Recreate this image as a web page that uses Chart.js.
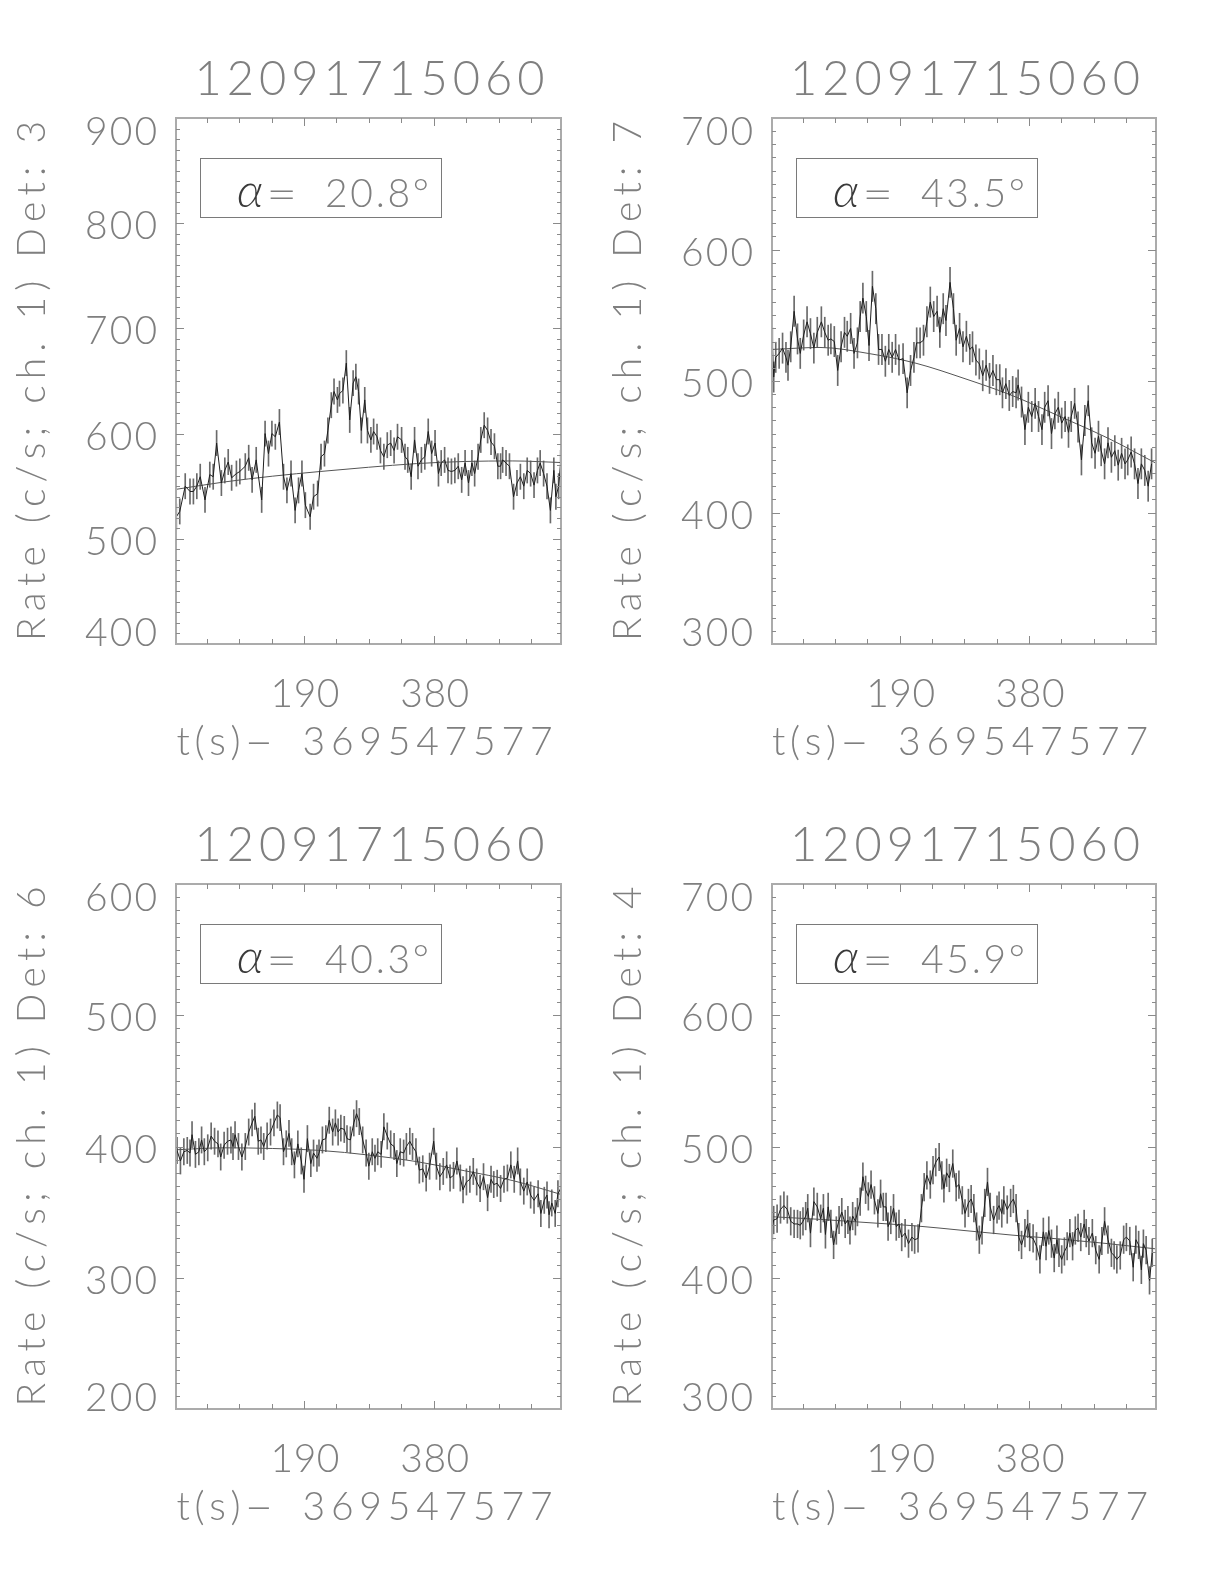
<!DOCTYPE html>
<html>
<head>
<meta charset="utf-8">
<script src="https://cdn.jsdelivr.net/npm/chart.js@4"></script>
<style>
  html, body { margin: 0; padding: 0; background: #fff; }
  #wrap { position: relative; width: 1224px; height: 1584px; }
  .cell { position: absolute; width: 612px; height: 792px; }
</style>
</head>
<body>
<div id="wrap">
  <div class="cell" style="left:0;top:0"><canvas id="c3" width="612" height="792"></canvas></div>
  <div class="cell" style="left:612px;top:0"><canvas id="c7" width="612" height="792"></canvas></div>
  <div class="cell" style="left:0;top:792px"><canvas id="c6" width="612" height="792"></canvas></div>
  <div class="cell" style="left:612px;top:792px"><canvas id="c4" width="612" height="792"></canvas></div>
</div>
<script>
// ---- data ----
const TITLE    = '12091715060';
const X_TITLE  = ['t(s)', '-', '369547577'];
const X_MIN    = 2.5;
const X_MAX    = 566.5;
const X_LABELS = [190, 380];
const X_MINOR  = 47.5;
const Y_MINOR  = 10;

// detector 3
const T_DET3 = [2,3,8,16,23,28,33,38,45,52,57,62,69,74,79,84,91,96,104,109,114,120,128,133,138,143,148,154,160,165,171,177,182,187,192,199,204,210,215,220,225,230,234,239,242,247,252,257,262,266,270,274,279,283,288,292,297,302,307,312,317,322,327,333,338,342,347,352,357,362,367,372,377,382,387,391,396,401,406,411,416,421,426,431,436,440,445,449,454,459,464,469,474,478,481,486,491,497,502,507,512,517,522,527,532,536,541,546,551,556,559,563,566];
const R_DET3 = [515,521,526,550,545,545,550,559,537,561,559,591,553,565,573,558,562,564,569,577,556,575,537,600,581,600,597,611,559,546,562,527,546,562,532,521,540,543,578,581,603,627,640,632,638,641,667,613,648,654,640,603,632,603,594,602,597,584,578,589,591,584,597,594,578,575,559,594,569,575,578,602,581,591,562,572,575,565,564,565,569,556,572,553,572,562,578,594,608,603,592,588,569,569,575,572,569,540,553,559,550,565,562,551,565,572,562,550,527,565,540,550,572];
const FIT_DET3 = [547,554,559.5,564,568,571.5,573.5,574,572.5];

// detector 7
const T_DET7 = [3,5,8,13,18,23,26,30,35,40,44,49,54,59,64,69,75,80,85,89,94,99,104,109,113,118,123,128,132,136,141,145,150,155,159,164,169,174,179,184,189,195,201,206,211,215,220,225,230,235,240,245,249,254,258,264,269,273,278,283,288,293,297,302,307,312,317,322,327,332,337,341,346,351,356,361,364,369,374,379,384,389,394,399,403,408,413,418,423,428,433,438,442,447,452,457,462,467,472,477,482,486,491,496,501,506,511,516,521,525,530,535,540,545,550,555,560];
const R_DET7 = [529,503,518,521,525,518,512,526,553,532,521,535,545,536,525,537,545,537,531,532,530,508,526,537,534,540,521,529,549,563,549,527,572,555,524,524,515,524,518,524,516,517,491,508,518,529,529,531,545,560,549,553,537,555,546,575,555,531,540,526,534,524,526,516,513,504,512,502,508,501,501,491,498,489,492,491,497,484,463,480,473,483,473,463,480,485,460,475,480,468,473,461,473,483,465,440,470,485,453,445,458,447,437,453,442,447,436,445,437,440,446,437,422,437,432,420,437];
const FIT_DET7 = [524,525.5,521,513.5,502,489,473,456.5,437.5];

// detector 6
const T_DET6 = [2,4,9,14,19,23,26,31,36,40,44,49,54,59,64,68,73,78,83,86,89,94,99,104,109,114,118,123,127,131,136,141,146,151,155,160,164,168,172,176,181,186,190,195,200,204,209,212,217,222,227,232,236,240,244,249,253,258,263,267,271,276,281,285,290,294,298,303,307,312,317,322,326,331,336,340,345,349,354,359,364,369,374,380,384,389,394,399,404,409,414,419,423,428,433,438,443,448,453,459,464,468,473,478,483,488,493,498,503,507,512,517,522,527,533,537,542,546,549,553,558,562,566];
const R_DET6 = [404,397,389,396,397,395,409,394,396,405,396,399,408,404,402,392,401,404,405,400,409,400,392,400,411,418,423,404,405,400,408,411,418,424,422,396,402,410,396,386,402,389,375,406,387,395,391,395,405,406,420,411,418,411,414,413,406,405,418,425,419,405,395,385,396,391,396,394,415,408,402,400,387,396,395,400,404,400,396,382,383,376,385,404,385,377,381,386,376,378,389,376,367,373,375,381,373,368,377,361,375,371,372,368,375,376,386,375,389,373,366,373,363,359,364,349,359,363,348,357,349,364,368];
const FIT_DET6 = [397.5,399,398.5,397,393.5,388.5,381.5,374,363.5];

// detector 4
const T_DET4 = [3,5,10,15,20,25,30,35,40,44,48,52,55,59,64,69,74,78,81,85,89,93,97,101,105,110,114,117,121,125,128,132,136,140,144,148,153,158,162,166,170,173,177,181,185,189,193,198,203,208,212,217,222,226,230,235,239,243,248,252,255,259,263,268,273,277,282,286,291,295,299,303,307,311,315,319,323,328,333,336,340,343,348,353,357,361,365,369,374,378,381,386,391,396,401,405,409,413,417,421,424,428,432,436,440,444,448,452,456,461,464,468,473,478,483,487,491,496,501,505,509,514,519,523,528,533,537,541,545,548,552,557,561];
const R_DET4 = [439,444,445,452,455,452,443,441,441,440,443,447,453,434,458,454,445,453,433,454,441,425,436,444,450,441,444,436,447,443,450,458,477,467,462,471,459,449,464,454,454,439,444,453,439,441,431,434,426,431,429,430,453,469,478,471,482,488,492,478,468,480,476,487,469,471,459,449,457,460,453,439,429,436,457,473,454,444,452,455,449,459,452,457,460,453,431,425,434,441,431,430,424,414,435,424,436,426,415,429,419,414,420,424,434,424,436,438,431,441,434,428,434,421,414,428,443,429,419,417,414,417,429,431,428,408,429,425,406,426,421,398,419];
const FIT_DET4 = [446.5,444.5,442,439.5,436,432.5,429.5,426,422];

// background fit sampled at these times
const T_FIT = [2.5,73,143.5,214,284.5,355,425.5,496,566.5];

// ---- styling ----
const FONT        = 'Lato, "DejaVu Sans", sans-serif';
const TEXT_COLOR  = '#7f7f7f';
const FRAME_COLOR = '#ababab';
const TICK_COLOR  = '#8a8a8a';

const panels = [
  { id: 'c3', det: 3, alpha: '20.8', t: T_DET3, rate: R_DET3, err: 12,   fit: FIT_DET3, yMin: 400, yMax: 900,
    pad: { left: 176, right: 51, top: 118, bottom: 148 } },
  { id: 'c7', det: 7, alpha: '43.5', t: T_DET7, rate: R_DET7, err: 11.5, fit: FIT_DET7, yMin: 300, yMax: 700,
    pad: { left: 160, right: 68, top: 118, bottom: 148 } },
  { id: 'c6', det: 6, alpha: '40.3', t: T_DET6, rate: R_DET6, err: 10,   fit: FIT_DET6, yMin: 200, yMax: 600,
    pad: { left: 176, right: 51, top: 92, bottom: 175 } },
  { id: 'c4', det: 4, alpha: '45.9', t: T_DET4, rate: R_DET4, err: 10.5, fit: FIT_DET4, yMin: 300, yMax: 700,
    pad: { left: 160, right: 68, top: 92, bottom: 175 } }
];

// draw text stretched to a given width (the original uses a wide vector font)
function fitText(ctx, str, x, y, width, align) {
  const chars  = [...str];
  const widths = chars.map(ch => ctx.measureText(ch).width);
  const natural = widths.reduce((a, b) => a + b, 0);
  const gap = chars.length > 1 ? (width - natural) / (chars.length - 1) : 0;
  let cx = align === 'center' ? x - width / 2 : align === 'right' ? x - width : x;
  ctx.textAlign = 'left';
  chars.forEach((ch, i) => {
    ctx.fillText(ch, cx, y);
    cx += widths[i] + gap;
  });
}

// a single glyph whose ink is stretched horizontally to inkW, ink starting at x
function wideGlyph(ctx, ch, x, y, inkW) {
  ctx.textAlign = 'left';
  const m = ctx.measureText(ch);
  const ink = m.actualBoundingBoxRight + m.actualBoundingBoxLeft;
  ctx.save();
  ctx.translate(x, y);
  ctx.scale(inkW / ink, 1);
  ctx.fillText(ch, m.actualBoundingBoxLeft, 0);
  ctx.restore();
}

function makeDecor(p) {
  return {
    id: 'idlDecor',
    afterDraw(chart) {
      const ctx = chart.ctx;
      const { left, right, top, bottom } = chart.chartArea;
      const xs = chart.scales.x;
      const ys = chart.scales.y;
      ctx.save();

      // frame
      ctx.strokeStyle = FRAME_COLOR;
      ctx.lineWidth = 2;
      ctx.strokeRect(left, top, right - left, bottom - top);

      // ticks, inward on all four sides
      ctx.strokeStyle = TICK_COLOR;
      ctx.lineWidth = 1;
      ctx.beginPath();
      for (let k = 1; k * X_MINOR < X_MAX; k++) {
        const v = k * X_MINOR;
        if (v <= X_MIN) continue;
        const x = Math.round(xs.getPixelForValue(v)) + 0.5;
        const len = k % 4 === 0 ? 8 : 5;
        ctx.moveTo(x, bottom); ctx.lineTo(x, bottom - len);
        ctx.moveTo(x, top);    ctx.lineTo(x, top + len);
      }
      const nY = Math.round((p.yMax - p.yMin) / Y_MINOR);
      for (let k = 1; k < nY; k++) {
        const y = Math.round(ys.getPixelForValue(p.yMin + k * Y_MINOR)) + 0.5;
        const len = k % 10 === 0 ? 8 : 4;
        ctx.moveTo(left, y);  ctx.lineTo(left + len, y);
        ctx.moveTo(right, y); ctx.lineTo(right - len, y);
      }
      ctx.stroke();

      ctx.fillStyle = TEXT_COLOR;
      ctx.textBaseline = 'alphabetic';

      // y tick labels
      ctx.font = `300 39px ${FONT}`;
      for (let v = p.yMin; v <= p.yMax; v += 100) {
        const off = v === p.yMax ? 13 : v === p.yMin ? -12.5 : 2;
        fitText(ctx, String(v), left - 19, ys.getPixelForValue(v) + off + 14, 72, 'right');
      }

      // x tick labels + title
      X_LABELS.forEach(v => {
        fitText(ctx, String(v), xs.getPixelForValue(v) + 1, bottom + 63, 69, 'center');
      });
      const xc = (left + right) / 2 - 4;
      fitText(ctx, X_TITLE[0], xc - 188, bottom + 111, 64, 'left');
      wideGlyph(ctx, X_TITLE[1], xc - 117, bottom + 111, 22);
      fitText(ctx, X_TITLE[2], xc + 188, bottom + 111, 250, 'right');

      // y title, rotated
      ctx.save();
      ctx.translate(left - 131.5, (top + bottom) / 2);
      ctx.rotate(-Math.PI / 2);
      fitText(ctx, `Rate (c/s; ch. 1) Det: ${p.det}`, 0, 0, 520, 'center');
      ctx.restore();

      // plot title
      ctx.font = `300 47px ${FONT}`;
      fitText(ctx, TITLE, (left + right) / 2 + 1, top - 23, 350, 'center');

      // angle box
      ctx.strokeStyle = '#7a7a7a';
      ctx.lineWidth = 1;
      ctx.strokeRect(Math.round(left + 24) + 0.5, top + 40.5, 241, 59);
      ctx.fillStyle = '#3a3a3a';
      ctx.font = `italic 300 48px ${FONT}`;
      ctx.textAlign = 'center';
      ctx.fillText('\u03b1', left + 74, top + 89);

      ctx.fillStyle = TEXT_COLOR;
      ctx.font = `300 44px ${FONT}`;
      wideGlyph(ctx, '=', left + 94, top + 92, 23);

      ctx.font = `300 39px ${FONT}`;
      fitText(ctx, p.alpha + '\u00b0', left + 149, top + 89, 104, 'left');

      ctx.restore();
    }
  };
}

panels.forEach(p => {
  const points = p.t.map((t, i) => ({ x: t, y: p.rate[i] }));
  const bars   = p.t.map((t, i) => ({ x: t, y: [p.rate[i] - p.err, p.rate[i] + p.err] }));
  const fit    = T_FIT.map((t, i) => ({ x: t, y: p.fit[i] }));

  new Chart(document.getElementById(p.id), {
    type: 'line',
    data: {
      datasets: [
        { type: 'line', data: points, borderColor: '#1e1e1e', borderWidth: 1,
          pointRadius: 0, tension: 0, order: 1 },
        { type: 'line', data: fit, borderColor: '#555', borderWidth: 1,
          pointRadius: 0, cubicInterpolationMode: 'monotone', order: 2 },
        { type: 'bar', data: bars, backgroundColor: '#6a6a6a', barThickness: 1,
          grouped: false, order: 3 }
      ]
    },
    options: {
      responsive: false,
      animation: false,
      events: [],
      layout: { padding: p.pad },
      scales: {
        x: { type: 'linear', min: X_MIN, max: X_MAX, offset: false, display: false },
        y: { type: 'linear', min: p.yMin, max: p.yMax, display: false }
      },
      plugins: { legend: { display: false }, tooltip: { enabled: false } }
    },
    plugins: [makeDecor(p)]
  });
});
</script>
</body>
</html>
